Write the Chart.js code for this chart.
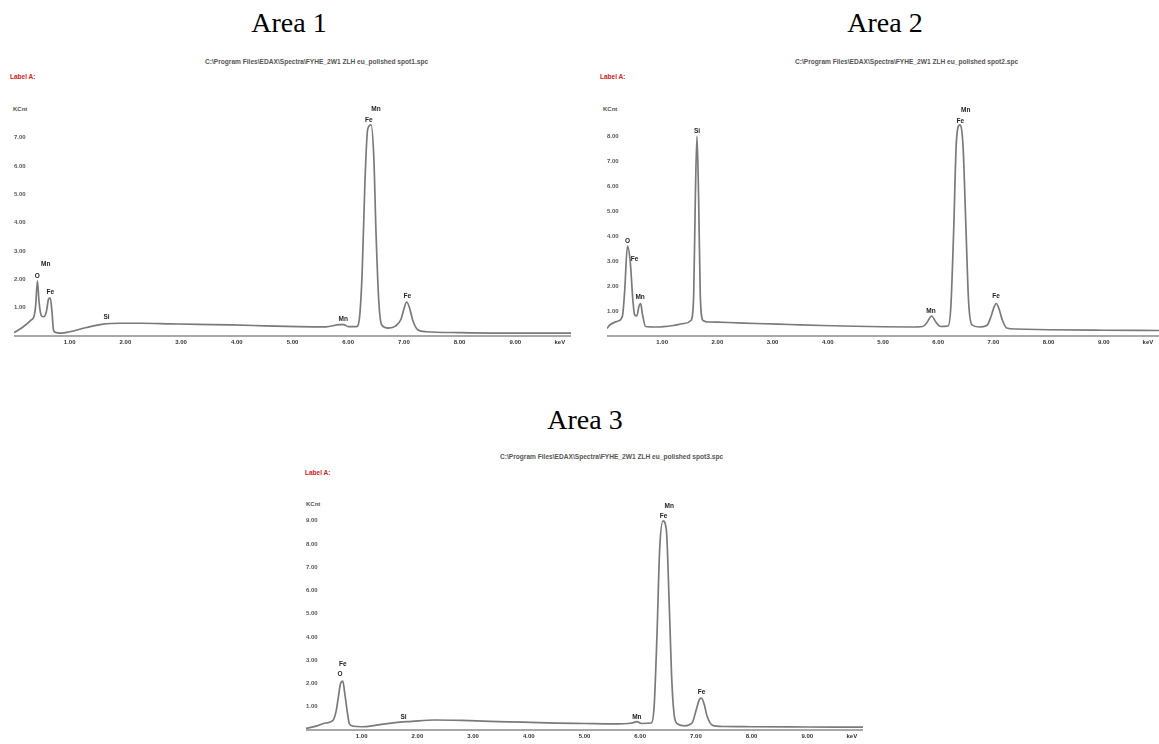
<!DOCTYPE html>
<html>
<head>
<meta charset="utf-8">
<script src="https://cdn.jsdelivr.net/npm/chart.js@4.4.0/dist/chart.umd.min.js"></script>
<style>
  body { margin:0; background:#fff; width:1159px; height:744px; position:relative; overflow:hidden; font-family:'Liberation Sans', Arial, sans-serif; }
  .title { position:absolute; font-family:'Liberation Serif','Times New Roman',serif; font-size:28px; line-height:28px; color:#000; white-space:nowrap; transform:translateX(-50%); }
  .path { position:absolute; font-size:6.6px; font-weight:bold; color:#555; white-space:nowrap; }
  .lab { position:absolute; font-size:6.5px; font-weight:bold; color:#d42020; white-space:nowrap; }
  .cnt { position:absolute; font-size:6px; font-weight:bold; color:#555; white-space:nowrap; }
  canvas { position:absolute; }
</style>
</head>
<body>
<div class="title" style="left:289px;top:9px">Area 1</div>
<div class="title" style="left:885px;top:9px">Area 2</div>
<div class="title" style="left:585px;top:406px">Area 3</div>

<div class="path" style="left:205px;top:58px">C:\Program Files\EDAX\Spectra\FYHE_2W1 ZLH eu_polished spot1.spc</div>
<div class="path" style="left:795px;top:58px">C:\Program Files\EDAX\Spectra\FYHE_2W1 ZLH eu_polished spot2.spc</div>
<div class="path" style="left:500px;top:453px">C:\Program Files\EDAX\Spectra\FYHE_2W1 ZLH eu_polished spot3.spc</div>

<div class="lab" style="left:10px;top:73px">Label A:</div>
<div class="lab" style="left:600px;top:73px">Label A:</div>
<div class="lab" style="left:305px;top:469px">Label A:</div>

<div class="cnt" style="left:13px;top:106px">KCnt</div>
<div class="cnt" style="left:603px;top:106px">KCnt</div>
<div class="cnt" style="left:306px;top:501px">KCnt</div>

<canvas id="c1"></canvas>
<canvas id="c2"></canvas>
<canvas id="c3"></canvas>

<script>
// energy axis (keV) and tick labels
const xTickValues = [1, 2, 3, 4, 5, 6, 7, 8, 9, 9.8];
const xTickLabels = ['1.00', '2.00', '3.00', '4.00', '5.00', '6.00', '7.00', '8.00', '9.00', 'keV'];

// Area 1 spectrum (keV, KCnt)
const energy1 = [0.0, 0.15, 0.3, 0.36, 0.39, 0.42, 0.45, 0.49, 0.53, 0.58, 0.62, 0.65, 0.68, 0.71, 0.76, 0.85, 1.0, 1.3, 1.6, 1.9, 2.3, 2.8, 3.3, 3.9, 4.5, 5.1, 5.6, 5.85, 5.92, 6.0, 6.15, 6.2, 6.25, 6.3, 6.35, 6.41, 6.46, 6.5, 6.55, 6.6, 6.72, 6.85, 6.95, 7.0, 7.05, 7.1, 7.16, 7.25, 7.4, 8.0, 9.0, 10.0];
const counts1 = [0.12, 0.3, 0.55, 0.7, 1.1, 1.95, 1.2, 0.72, 0.68, 0.85, 1.3, 1.35, 0.9, 0.2, 0.12, 0.1, 0.15, 0.3, 0.42, 0.45, 0.45, 0.43, 0.41, 0.39, 0.36, 0.33, 0.32, 0.4, 0.4, 0.33, 0.33, 0.6, 2.2, 5.4, 7.3, 7.45, 6.3, 3.6, 1.2, 0.4, 0.28, 0.35, 0.6, 0.95, 1.2, 1.0, 0.55, 0.22, 0.15, 0.12, 0.1, 0.1];
const yTicks1 = [1, 2, 3, 4, 5, 6, 7];
const peakNames1 = ['O', 'Mn', 'Fe', 'Si', 'Mn', 'Mn', 'Fe', 'Fe'];
const peakEnergy1 = [0.42, 0.57, 0.65, 1.66, 5.91, 6.5, 6.37, 7.06];
const peakLevel1 = [2.0, 2.42, 1.42, 0.56, 0.47, 7.9, 7.5, 1.3];

// Area 2 spectrum
const energy2 = [0.0, 0.05, 0.2, 0.28, 0.32, 0.37, 0.42, 0.47, 0.5, 0.54, 0.58, 0.61, 0.64, 0.7, 0.9, 1.2, 1.4, 1.52, 1.57, 1.6, 1.63, 1.66, 1.69, 1.74, 1.85, 2.2, 2.7, 3.3, 3.9, 4.5, 5.0, 5.5, 5.72, 5.8, 5.88, 5.96, 6.04, 6.18, 6.23, 6.28, 6.33, 6.39, 6.45, 6.5, 6.55, 6.61, 6.74, 6.88, 6.96, 7.01, 7.05, 7.1, 7.16, 7.24, 7.4, 8.0, 9.0, 10.0];
const counts2 = [0.3, 0.44, 0.6, 0.8, 1.8, 3.6, 3.0, 1.4, 0.85, 0.8, 1.2, 1.3, 0.9, 0.38, 0.36, 0.42, 0.5, 0.62, 1.6, 5.5, 8.0, 5.5, 1.6, 0.62, 0.56, 0.54, 0.5, 0.46, 0.42, 0.39, 0.37, 0.36, 0.38, 0.55, 0.8, 0.55, 0.38, 0.4, 1.2, 4.2, 7.8, 8.45, 7.6, 4.5, 1.4, 0.45, 0.36, 0.42, 0.8, 1.15, 1.3, 1.1, 0.65, 0.32, 0.28, 0.25, 0.23, 0.22];
const yTicks2 = [1, 2, 3, 4, 5, 6, 7, 8];
const peakNames2 = ['O', 'Fe', 'Mn', 'Si', 'Mn', 'Mn', 'Fe', 'Fe'];
const peakEnergy2 = [0.37, 0.5, 0.6, 1.63, 5.87, 6.5, 6.4, 7.05];
const peakLevel2 = [3.65, 2.96, 1.42, 8.07, 0.88, 8.9, 8.45, 1.45];

// Area 3 spectrum
const energy3 = [0.0, 0.2, 0.35, 0.48, 0.54, 0.58, 0.62, 0.66, 0.7, 0.74, 0.78, 0.85, 1.0, 1.3, 1.6, 1.9, 2.3, 2.8, 3.3, 3.9, 4.5, 5.0, 5.5, 5.85, 5.94, 6.02, 6.2, 6.25, 6.3, 6.35, 6.41, 6.47, 6.52, 6.57, 6.62, 6.68, 6.8, 6.93, 7.01, 7.06, 7.1, 7.15, 7.2, 7.3, 7.5, 8.0, 9.0, 10.0];
const counts3 = [0.07, 0.18, 0.3, 0.4, 0.8, 1.4, 2.0, 2.1, 1.5, 0.8, 0.26, 0.16, 0.14, 0.22, 0.32, 0.37, 0.43, 0.41, 0.37, 0.34, 0.3, 0.28, 0.26, 0.3, 0.36, 0.28, 0.3, 1.0, 4.0, 7.8, 9.0, 8.6, 5.5, 2.0, 0.5, 0.25, 0.18, 0.3, 0.9, 1.3, 1.37, 1.1, 0.6, 0.2, 0.15, 0.14, 0.13, 0.12];
const yTicks3 = [1, 2, 3, 4, 5, 6, 7, 8, 9];
const peakNames3 = ['Fe', 'O', 'Si', 'Mn', 'Mn', 'Fe', 'Fe'];
const peakEnergy3 = [0.66, 0.61, 1.75, 5.94, 6.52, 6.42, 7.1];
const peakLevel3 = [2.71, 2.28, 0.43, 0.43, 9.5, 9.06, 1.49];

// draws element names above peaks, placed via the chart scales
const peakLabelPlugin = {
  id: 'peakLabels',
  afterDatasetsDraw(chart, args, opts) {
    const ctx = chart.ctx;
    const xs = chart.scales.x, ys = chart.scales.y;
    ctx.save();
    ctx.font = 'bold 6.5px "Liberation Sans", Arial, sans-serif';
    ctx.fillStyle = '#222';
    ctx.textAlign = 'center';
    ctx.textBaseline = 'bottom';
    opts.names.forEach((n, i) => {
      ctx.fillText(n, xs.getPixelForValue(opts.energy[i]), ys.getPixelForValue(opts.level[i]));
    });
    ctx.restore();
  }
};

function makeChart(id, left, top, w, h, yMax, energy, counts, yTicks, names, pe, pl) {
  const cv = document.getElementById(id);
  cv.width = w; cv.height = h;
  cv.style.left = left + 'px';
  cv.style.top = top + 'px';
  new Chart(cv, {
    type: 'line',
    data: {
      datasets: [{
        data: energy.map((e, i) => ({ x: e, y: counts[i] })),
        borderColor: '#7a7a7a',
        borderWidth: 1.7,
        pointRadius: 0,
        fill: false,
        cubicInterpolationMode: 'monotone'
      }]
    },
    options: {
      responsive: false,
      animation: false,
      events: [],
      layout: { padding: 0 },
      plugins: {
        legend: { display: false },
        tooltip: { enabled: false },
        peakLabels: { names: names, energy: pe, level: pl }
      },
      scales: {
        x: {
          type: 'linear', min: 0, max: 10,
          grid: { display: false, drawTicks: false },
          border: { color: '#a8a8a8', width: 2 },
          afterBuildTicks: s => { s.ticks = xTickValues.map(v => ({ value: v })); },
          afterFit: s => { s.height = 12; },
          ticks: {
            padding: 3, color: '#333', autoSkip: false, maxRotation: 0,
            font: { size: 6, weight: 'bold', family: "'Liberation Sans', Arial, sans-serif" },
            callback: (v, i) => xTickLabels[i]
          }
        },
        y: {
          min: 0, max: yMax,
          grid: { display: false, drawTicks: false },
          border: { display: false },
          afterBuildTicks: s => { s.ticks = yTicks.map(v => ({ value: v })); },
          afterFit: s => { s.width = 0; },
          ticks: {
            mirror: true, padding: 0, color: '#555',
            font: { size: 6, weight: 'bold', family: "'Liberation Sans', Arial, sans-serif" },
            callback: v => v.toFixed(2)
          }
        }
      }
    },
    plugins: [peakLabelPlugin]
  });
}

makeChart('c1', 14, 100, 557, 248, 8.2, energy1, counts1, yTicks1, peakNames1, peakEnergy1, peakLevel1);
makeChart('c2', 607, 100, 552, 248, 9.3, energy2, counts2, yTicks2, peakNames2, peakEnergy2, peakLevel2);
makeChart('c3', 306, 494, 557, 248, 10.0, energy3, counts3, yTicks3, peakNames3, peakEnergy3, peakLevel3);
</script>
</body>
</html>
